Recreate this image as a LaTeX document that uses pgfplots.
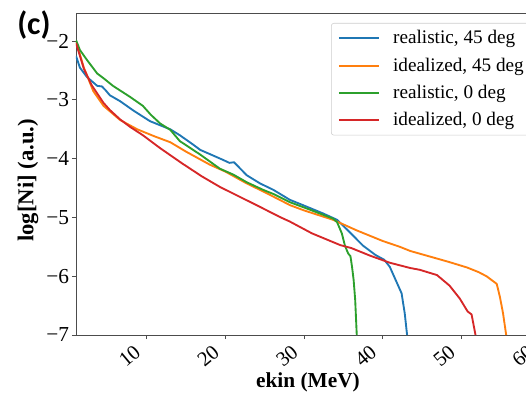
\documentclass[border=0pt]{standalone}
\usepackage{pgfplots}
\pgfplotsset{compat=1.18}
\usepackage{fontspec}
\setmainfont{Liberation Serif}
\newfontfamily\calfont{Carlito}
\definecolor{tabblue}{HTML}{1F77B4}
\definecolor{taborange}{HTML}{FF7F0E}
\definecolor{tabgreen}{HTML}{2CA02C}
\definecolor{tabred}{HTML}{D62728}
\begin{document}
\begin{tikzpicture}
\begin{axis}[
  at={(0,0)}, anchor=south west,
  scale only axis,
  width=348pt, height=241.5pt,
  xmin=1, xmax=60, ymin=-7, ymax=-1.52,
  xtick={10,20,30,40,50,60},
  ytick={-7,-6,-5,-4,-3,-2},
  yticklabels={−7,−6,−5,−4,−3,−2},
  tick pos=left,
  tick align=outside,
  major tick length=3pt,
  axis line style={black!70, line width=0.7pt},
  every tick/.style={black!70, line width=0.7pt},
  /pgf/number format/assume math mode=true,
  tick label style={font=\fontsize{16}{19}\selectfont},
  x tick label style={xshift=-6pt, yshift=-7pt, rotate=40, anchor=east, inner sep=1pt, font=\fontsize{15.5}{18}\selectfont},
  y tick label style={inner sep=2pt},
  xlabel={\textbf{ekin (MeV)}},
  ylabel={\textbf{log[Ni] (a.u.)}},
  x label style={at={(axis description cs:0.5,0)}, anchor=north, inner sep=0pt, yshift=-28pt, font=\fontsize{16}{19}\selectfont},
  y label style={at={(axis description cs:-0.1034,0.48)}, anchor=center, inner sep=0pt, font=\fontsize{17}{20}\selectfont},
  legend style={at={(0.5496,0.969)}, anchor=north west, draw=black!20, rounded corners=2pt, fill=white,
    font=\fontsize{14.4}{17}\selectfont, row sep=5pt, inner xsep=5pt, inner ysep=3.5pt,
    /tikz/every odd column/.append style={column sep=8pt}},
  legend cell align=left,
  legend image code/.code={\draw[#1] (0pt,0pt) -- (30pt,0pt);},
]
\addplot[tabblue, line width=1.4pt] coordinates {
(1.0,-2.25) (1.5,-2.45) (2.4,-2.61) (3.7,-2.76) (4.3,-2.77) (4.8,-2.84) (5.3,-2.92) (6.6,-3.02) (8.3,-3.18) (10.4,-3.36) (11.5,-3.42) (13,-3.50) (14.2,-3.60) (15.9,-3.76) (16.8,-3.85) (18,-3.92) (19.7,-4.02) (20.5,-4.07) (21.1,-4.06) (22.7,-4.28) (24.4,-4.42) (26.1,-4.53) (28.2,-4.70) (29.5,-4.77) (32.4,-4.93) (34.2,-5.04) (35.8,-5.25) (37.5,-5.48) (39.1,-5.64) (40.2,-5.72) (40.9,-5.84) (41.7,-6.08) (42.4,-6.29) (42.8,-6.63) (43.1,-7.0)
};
\addlegendentry{realistic, 45 deg}
\addplot[taborange, line width=1.4pt] coordinates {
(1.0,-2.0) (2,-2.45) (3.2,-2.85) (4.5,-3.10) (6.6,-3.34) (8.8,-3.50) (11,-3.62) (13,-3.72) (15,-3.88) (18,-4.10) (20,-4.22) (22.7,-4.42) (25,-4.57) (26.9,-4.70) (28.2,-4.79) (30,-4.88) (33.7,-5.04) (36.7,-5.22) (40,-5.40) (42.2,-5.50) (43.5,-5.57) (46.4,-5.68) (48.5,-5.76) (50.7,-5.85) (52.2,-5.93) (53.2,-6.0) (54.5,-6.13) (54.9,-6.35) (55.3,-6.63) (55.7,-7.0)
};
\addlegendentry{idealized, 45 deg}
\addplot[tabgreen, line width=1.4pt] coordinates {
(1.0,-1.98) (1.5,-2.15) (2.4,-2.32) (3.7,-2.55) (4.5,-2.63) (5.7,-2.76) (7.9,-2.95) (9.5,-3.10) (10.5,-3.25) (11.7,-3.40) (13,-3.51) (14.2,-3.70) (16.8,-3.93) (19.3,-4.17) (21,-4.27) (22.7,-4.40) (24.8,-4.53) (26.1,-4.60) (28.2,-4.74) (30.8,-4.87) (33.7,-5.02) (34.2,-5.08) (34.8,-5.27) (35.2,-5.48) (35.6,-5.61) (35.9,-5.66) (36.1,-5.84) (36.3,-6.06) (36.5,-6.40) (36.7,-7.0)
};
\addlegendentry{realistic, 0 deg}
\addplot[tabred, line width=1.4pt] coordinates {
(1.0,-2.03) (2,-2.47) (3,-2.75) (4.5,-3.05) (5.3,-3.17) (6.6,-3.33) (7.9,-3.46) (9.5,-3.60) (11.7,-3.82) (14.5,-4.08) (17,-4.30) (19.3,-4.48) (22,-4.66) (24.4,-4.82) (26.9,-4.99) (28.2,-5.07) (31,-5.27) (34.6,-5.47) (36,-5.52) (38.4,-5.65) (40.9,-5.77) (43.5,-5.86) (44.7,-5.89) (46.9,-5.98) (48.5,-6.16) (49.8,-6.38) (50.8,-6.60) (51.3,-6.65) (51.8,-7.0)
};
\addlegendentry{idealized, 0 deg}
\end{axis}
\node[anchor=base west, inner sep=0pt, font=\calfont\bfseries\fontsize{24}{28}\selectfont] at (-44.25pt,225pt) {(c)};
\pgfresetboundingbox
\path[use as bounding box] (-57pt,-46.5pt) rectangle (337.5pt,251.25pt);
\end{tikzpicture}
\end{document}
